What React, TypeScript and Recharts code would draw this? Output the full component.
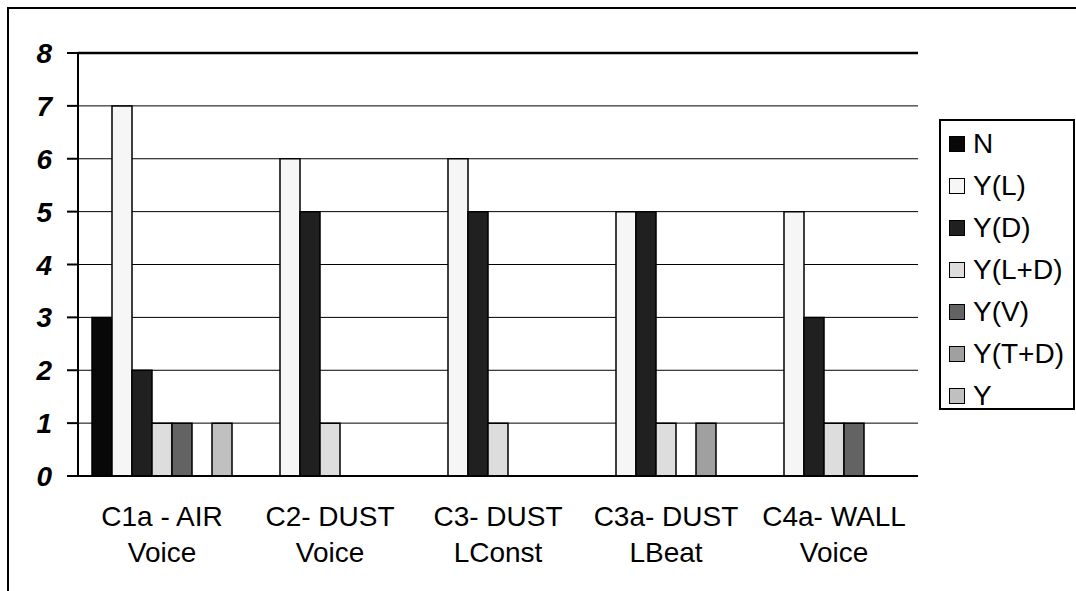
import React from 'react';
import { BarChart, Bar, XAxis, YAxis, CartesianGrid, ReferenceLine } from 'recharts';

const categoryTop = ["C1a - AIR", "C2- DUST", "C3- DUST", "C3a- DUST", "C4a- WALL"];
const categoryBottom = ["Voice", "Voice", "LConst", "LBeat", "Voice"];

const seriesNames = ["N", "Y(L)", "Y(D)", "Y(L+D)", "Y(V)", "Y(T+D)", "Y"];
const seriesColors = ["#080808", "#f6f6f6", "#202020", "#dddddd", "#636363", "#a0a0a0", "#c0c0c0"];

const valuesN = [3, 0, 0, 0, 0];
const valuesYL = [7, 6, 6, 5, 5];
const valuesYD = [2, 5, 5, 5, 3];
const valuesYLD = [1, 1, 1, 1, 1];
const valuesYV = [1, 0, 0, 0, 1];
const valuesYTD = [0, 0, 0, 1, 0];
const valuesY = [1, 0, 0, 0, 0];

const yTicks = [0, 1, 2, 3, 4, 5, 6, 7, 8];
const boundaryTicks = [0, 1, 2, 3, 4, 5];

const seriesValues = [valuesN, valuesYL, valuesYD, valuesYLD, valuesYV, valuesYTD, valuesY];

const data = categoryTop.map((name, i) => {
  const row: Record<string, any> = { name, sub: categoryBottom[i] };
  seriesNames.forEach((s, k) => {
    row[s] = seriesValues[k][i];
  });
  return row;
});

const FONT = '"Liberation Sans", Arial, Helvetica, sans-serif';

const CatTick = (props: any) => {
  const { x, y, payload, index } = props;
  return (
    <g>
      <text x={x} y={y} textAnchor="middle" fontSize={28} fontFamily={FONT} fill="#000">
        <tspan x={x} dy={50}>{payload.value}</tspan>
        <tspan x={x} dy={36}>{categoryBottom[index]}</tspan>
      </text>
    </g>
  );
};

const YTick = (props: any) => {
  const { x, y, payload } = props;
  return (
    <text
      x={x}
      y={y}
      dy={10}
      textAnchor="end"
      fontSize={28}
      fontWeight="bold"
      fontStyle="italic"
      fontFamily={FONT}
      fill="#000"
    >
      {payload.value}
    </text>
  );
};

export default function App() {
  return (
    <div style={{ position: 'absolute', left: 0, top: 0, width: 1076, height: 591, background: '#fff', overflow: 'hidden' }}>
      <div
        style={{
          position: 'absolute',
          left: 7,
          top: 7,
          width: 2000,
          height: 2000,
          borderTop: '2px solid #000',
          borderLeft: '2px solid #000',
          boxSizing: 'border-box',
        }}
      />
      <div style={{ position: 'absolute', left: 0, top: 0 }}>
        <BarChart
          width={1076}
          height={591}
          data={data}
          margin={{ top: 53, right: 158, left: 0, bottom: 15 }}
          barCategoryGap={14}
          barGap={0}
        >
          <CartesianGrid vertical={false} stroke="#000" strokeWidth={1} />
          <ReferenceLine y={8} stroke="#000" strokeWidth={2.5} ifOverflow="visible" />
          <XAxis
            xAxisId="bounds"
            type="number"
            domain={[0, 5]}
            ticks={boundaryTicks}
            tick={false}
            tickSize={10}
            tickLine={{ stroke: '#000', strokeWidth: 2 }}
            axisLine={false}
            height={0}
            allowDataOverflow
          />
          <XAxis
            xAxisId="cat"
            dataKey="name"
            type="category"
            height={100}
            tickLine={false}
            tickSize={0}
            tickMargin={0}
            axisLine={{ stroke: '#000', strokeWidth: 2 }}
            tick={<CatTick />}
            interval={0}
          />
          <YAxis
            domain={[0, 8]}
            ticks={yTicks}
            width={78}
            tickSize={11}
            tickMargin={15}
            tickLine={{ stroke: '#000', strokeWidth: 2 }}
            axisLine={{ stroke: '#000', strokeWidth: 2 }}
            tick={<YTick />}
            interval={0}
          />
          <YAxis
            yAxisId="right"
            orientation="right"
            domain={[0, 8]}
            width={0}
            tick={false}
            tickLine={false}
            axisLine={{ stroke: '#000', strokeWidth: 2.5 }}
          />
          {seriesNames.map((s, k) => (
            <Bar
              key={s}
              dataKey={s}
              xAxisId="cat"
              fill={seriesColors[k]}
              stroke="#000"
              strokeWidth={1.5}
              isAnimationActive={false}
            />
          ))}
        </BarChart>
      </div>
      <div
        style={{
          position: 'absolute',
          left: 939,
          top: 119,
          width: 136,
          height: 291,
          border: '2px solid #000',
          boxSizing: 'border-box',
          background: '#fff',
          fontFamily: FONT,
        }}
      >
        {seriesNames.map((s, k) => (
          <div
            key={s}
            style={{
              position: 'absolute',
              left: 8,
              top: 2 + 42 * k,
              height: 42,
              display: 'flex',
              alignItems: 'center',
              whiteSpace: 'nowrap',
            }}
          >
            <div
              style={{
                width: 16,
                height: 16,
                background: seriesColors[k],
                border: '1.5px solid #000',
                boxSizing: 'border-box',
                marginRight: 8,
              }}
            />
            <span style={{ fontSize: 28, color: '#000', lineHeight: '42px' }}>{s}</span>
          </div>
        ))}
      </div>
    </div>
  );
}
